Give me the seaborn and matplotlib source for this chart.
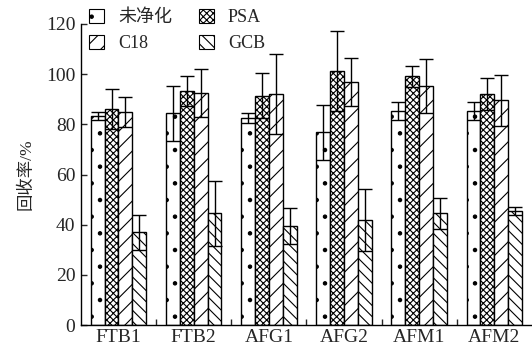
import matplotlib
matplotlib.use("Agg")
import matplotlib.pyplot as plt
from matplotlib.patches import Patch
import seaborn as sns
import pandas as pd
import numpy as np

groups = ["FTB1", "FTB2", "AFG1", "AFG2", "AFM1", "AFM2"]
methods = ["未净化", "PSA", "C18", "GCB"]
raw_vals = [83.3, 84.4, 82.4, 76.8, 85.3, 85.3]
raw_err = [1.5, 11.0, 2.0, 11.0, 3.5, 3.7]
psa_vals = [86.1, 93.3, 91.4, 101.3, 99.2, 92.0]
psa_err = [8.0, 6.0, 9.0, 16.0, 4.2, 6.4]
c18_vals = [85.0, 92.4, 92.2, 96.9, 95.3, 89.6]
c18_err = [6.0, 9.5, 16.0, 9.5, 10.7, 10.2]
gcb_vals = [37.0, 44.5, 39.5, 41.9, 44.5, 45.6]
gcb_err = [7.0, 13.0, 7.0, 12.5, 6.3, 1.6]

vals = [raw_vals, psa_vals, c18_vals, gcb_vals]
errs = [raw_err, psa_err, c18_err, gcb_err]
hatches = [".", "xxxxx", "//", "\\\\\\"]

rows = []
for m, v in zip(methods, vals):
    for g, y in zip(groups, v):
        rows.append({"group": g, "method": m, "value": y})
df = pd.DataFrame(rows)

sns.set_style("ticks")
plt.rcParams["font.family"] = ["Liberation Serif", "Noto Sans CJK SC"]
plt.rcParams["hatch.linewidth"] = 0.8

fig = plt.figure(figsize=(5.32, 3.58), dpi=100)
ax = fig.add_axes([0.152, 0.092, 0.848, 0.841])

sns.barplot(data=df, x="group", y="value", hue="method", order=groups,
            hue_order=methods, palette=["white"] * 4, width=0.74,
            edgecolor="black", linewidth=1.0, errorbar=None, ax=ax,
            legend=False, saturation=1)

bar_containers = list(ax.containers)
for i, cont in enumerate(bar_containers):
    xs = []
    for p in cont.patches:
        p.set_hatch(hatches[i])
        xs.append(p.get_x() + p.get_width() / 2)
    ax.errorbar(xs, vals[i], yerr=errs[i], fmt="none", ecolor="black",
                elinewidth=1.0, capsize=5, capthick=1.0, zorder=5)

ax.set_xlim(-0.5, 5.5)
ax.set_ylim(0, 120)
ax.set_yticks(range(0, 121, 20))
ax.set_xlabel("")
ax.set_ylabel("回收率/%", fontsize=12.5, labelpad=8)
ax.tick_params(axis="y", direction="in", length=4, width=1, labelsize=14, pad=4)
ax.tick_params(axis="x", length=0, labelsize=14, pad=3)
ax.set_xticks(np.arange(0.5, 5.0, 1.0), minor=True)
ax.tick_params(axis="x", which="minor", direction="in", length=4, width=1)
for s in ["top", "right"]:
    ax.spines[s].set_visible(False)
for s in ["left", "bottom"]:
    ax.spines[s].set_linewidth(1.0)
    ax.spines[s].set_color("black")

order = [0, 2, 1, 3]
handles = [Patch(facecolor="white", edgecolor="black", hatch=hatches[k],
                 linewidth=0.8) for k in order]
labels = [methods[k] for k in order]
fig.legend(handles, labels, ncol=2, frameon=False, loc="upper left",
           bbox_to_anchor=(0.137, 1.02), fontsize=13, handlelength=0.8,
           handleheight=0.8, handletextpad=0.8, columnspacing=1.5,
           labelspacing=0.5)

fig.savefig("out.png", dpi=100)
